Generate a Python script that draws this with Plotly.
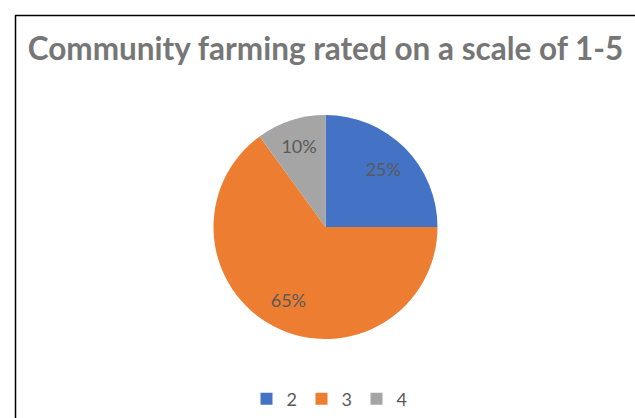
import plotly.graph_objects as go

ratings = ["2", "3", "4"]
shares = [25, 65, 10]
colors = ["#4472C4", "#ED7D31", "#A5A5A5"]

W, H = 635, 418
cx, cy, r = 325.5, 227, 112


def px(x):
    return x / W


def py(y):
    return 1 - y / H


dom = dict(x=[px(cx - r), px(cx + r)], y=[py(cy + r), py(cy - r)])

fig = go.Figure()
# visible pie (slices + legend)
fig.add_trace(go.Pie(
    labels=ratings,
    values=shares,
    sort=False,
    direction="clockwise",
    rotation=0,
    marker=dict(colors=colors, line=dict(width=0)),
    textinfo="none",
    domain=dom,
    hoverinfo="label+percent",
))
# transparent overlay carrying the percentage labels further out in each slice
fig.add_trace(go.Pie(
    labels=ratings,
    values=shares,
    sort=False,
    direction="clockwise",
    rotation=0,
    hole=0.46,
    marker=dict(colors=["rgba(0,0,0,0)"] * len(ratings), line=dict(width=0)),
    textinfo="percent",
    textposition="inside",
    insidetextorientation="horizontal",
    textfont=dict(family="Lato", size=18, color="#595959"),
    domain=dom,
    showlegend=False,
    hoverinfo="skip",
))

fig.update_layout(
    width=W, height=H,
    margin=dict(l=0, r=0, t=0, b=0),
    paper_bgcolor="white",
    plot_bgcolor="white",
    title=dict(
        text="<b>Community farming rated on a scale of 1-5</b>",
        x=px(325.5), xanchor="center", xref="paper",
        y=py(49), yanchor="middle", yref="paper",
        font=dict(family="Lato", size=31.5, color="#767676"),
    ),
    legend=dict(
        orientation="h",
        x=px(329), xanchor="center",
        y=py(399), yanchor="middle",
        font=dict(family="Lato", size=18, color="#595959"),
        entrywidth=10,
        traceorder="normal",
    ),
    shapes=[
        dict(type="line", xref="paper", yref="paper", x0=px(15), x1=1,
             y0=py(15.5), y1=py(15.5),
             line=dict(color="black", width=1.5)),
        dict(type="line", xref="paper", yref="paper", x0=px(15.5), x1=px(15.5),
             y0=py(15), y1=0,
             line=dict(color="black", width=1.5)),
    ],
)

fig.write_html(
    "out.html",
    config={"displayModeBar": False},
    post_script="document.body.style.margin='0';document.body.style.overflow='hidden';",
)
